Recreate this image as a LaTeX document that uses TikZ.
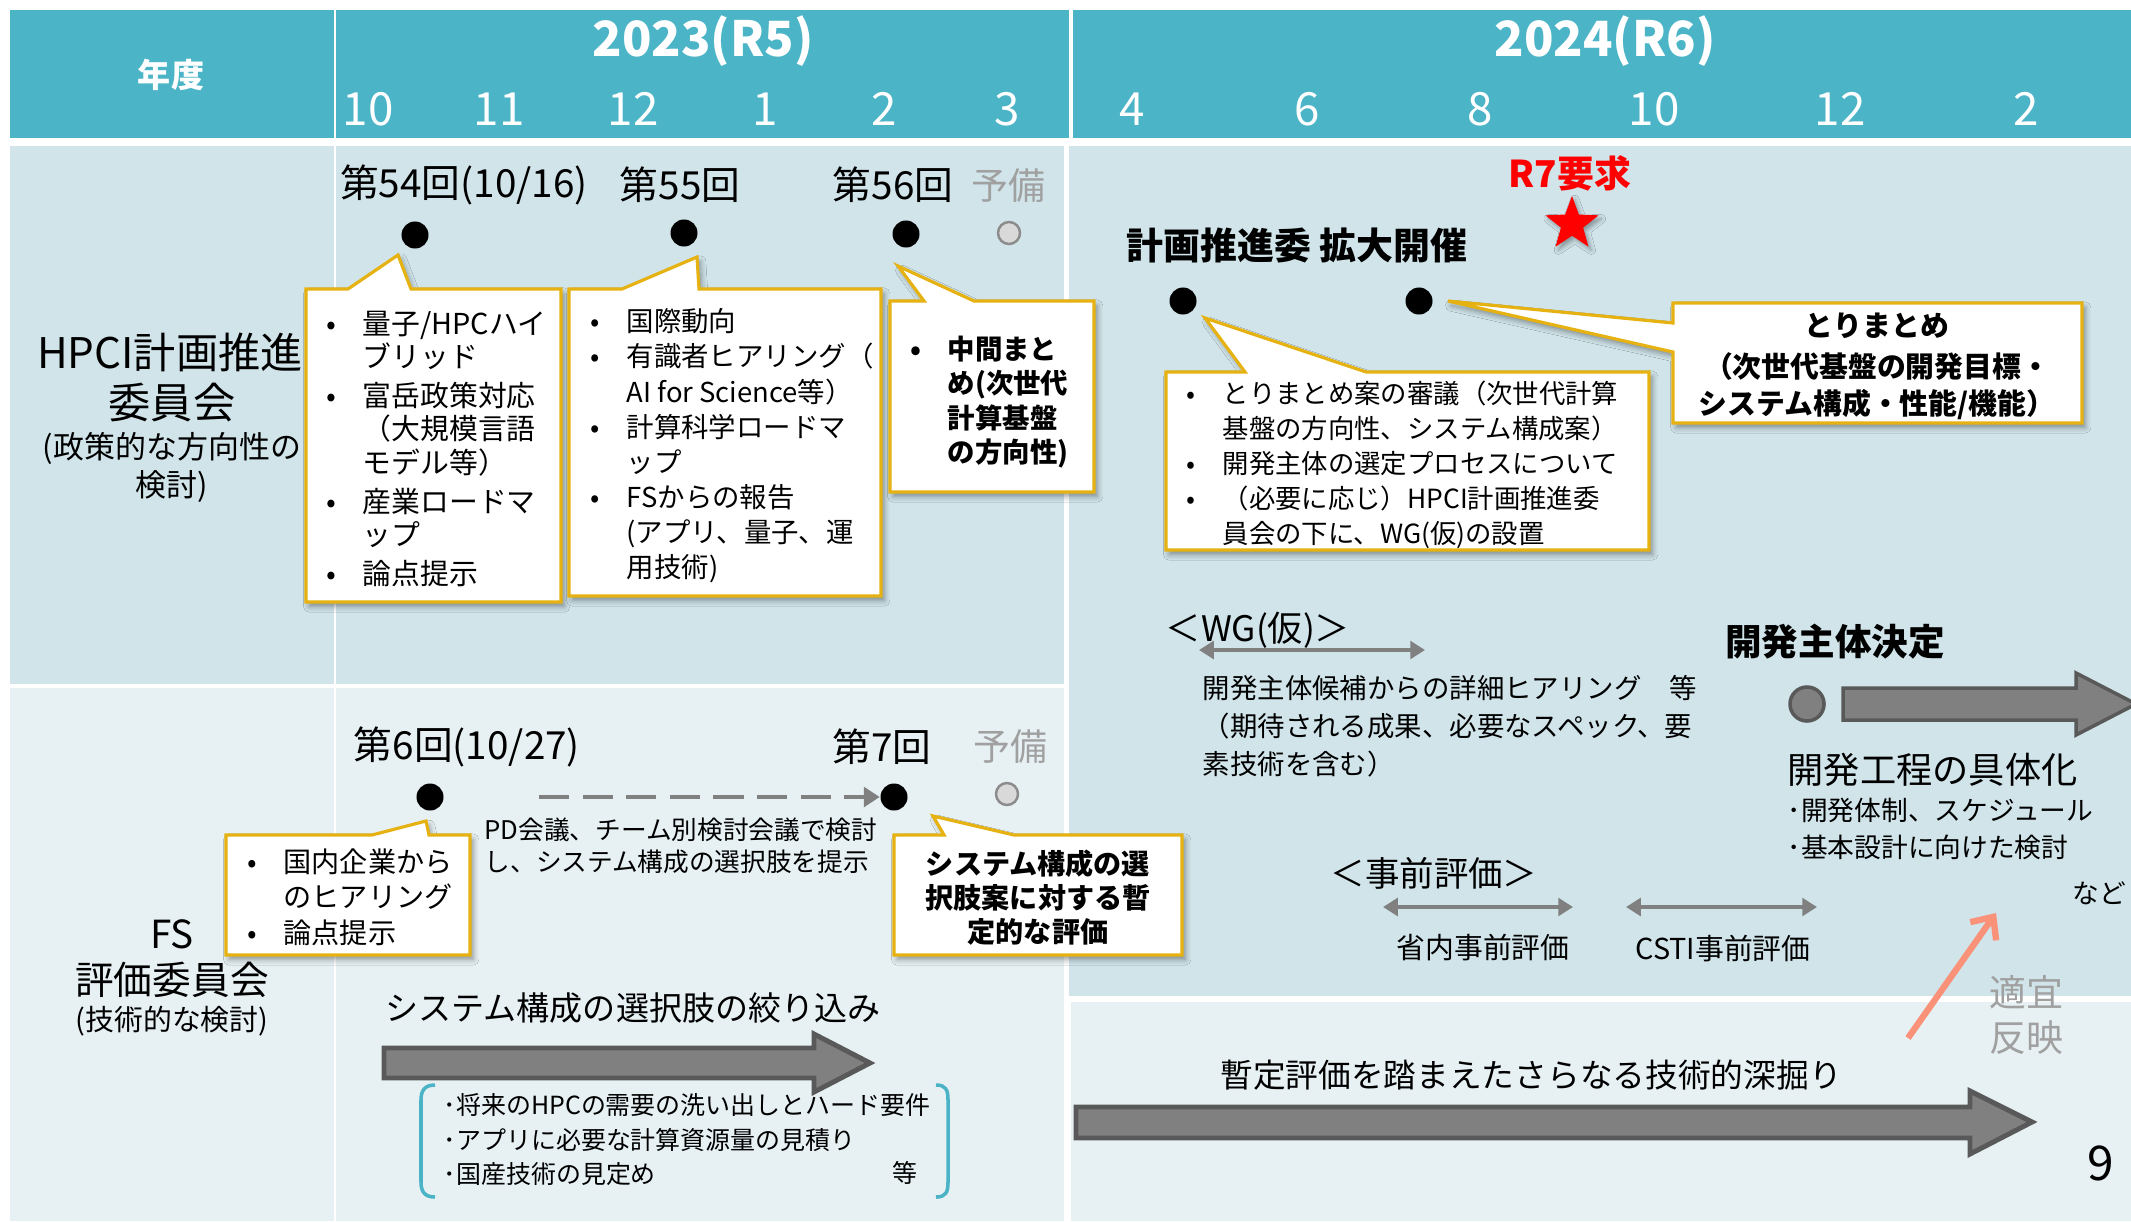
\documentclass[tikz,border=0pt]{standalone}
\usepackage{fontspec}
\setmainfont{Noto Sans CJK JP}
\usetikzlibrary{arrows.meta,shapes.geometric,shadows.blur}
\definecolor{hdr}{RGB}{76,180,199}
\definecolor{rowA}{RGB}{208,228,234}
\definecolor{rowB}{RGB}{231,241,244}
\definecolor{gold}{RGB}{230,178,18}
\definecolor{arrfill}{RGB}{128,128,128}
\definecolor{arrdraw}{RGB}{89,89,89}
\definecolor{salmon}{RGB}{250,146,122}
\definecolor{spare}{RGB}{160,160,160}
\definecolor{brk}{RGB}{75,179,198}
\newcommand\fsz[2]{\fontsize{#1}{#2}\selectfont}
\newcommand\bu{\llap{\makebox[18pt][c]{•}}}
\begin{document}
\begin{tikzpicture}[x=0.01cm,y=-0.01cm,
  txt/.style={inner sep=0pt},
  hdrtxt/.style={txt, text=white, font=\fsz{13}{15}},
  hdrbold/.style={txt, text=white, font=\bfseries\fsz{13.8}{16}},
  evlbl/.style={txt, text=black, font=\fsz{11}{13}},
  sparelbl/.style={txt, text=spare, font=\fsz{10.5}{12}},
  dotb/.style={circle, fill=black, minimum size=0.27cm, inner sep=0pt},
  dotspare/.style={circle, fill=black!15, draw=black!45, line width=0.7pt, minimum size=0.22cm, inner sep=0pt},
  cbox/.style={fill=white, draw=gold, line width=0.9pt, line join=miter,
     blur shadow={shadow xshift=0.9pt, shadow yshift=-1.3pt, shadow blur radius=1.6pt, shadow blur steps=5, shadow opacity=40}},
  boxtxt/.style={txt, anchor=north west, align=left},
  bigarrow/.style={fill=arrfill, draw=arrdraw, line width=1.4pt, line join=miter},
  dblarrow/.style={draw=arrfill, line width=1.2pt, {Triangle[length=4.2pt,width=5pt]}-{Triangle[length=4.2pt,width=5pt]}},
  dasharrow/.style={draw=arrfill, line width=1.2pt, dash pattern=on 8.6pt off 3.8pt, -{Triangle[length=4.5pt,width=5.5pt]}}
]
% ---------- backgrounds ----------
\path[use as bounding box] (0,0) rectangle (2131,1221);
\fill[white] (0,0) rectangle (2131,1221);
\fill[hdr] (10,10) rectangle (2131,138);
\fill[rowA] (10,146) rectangle (1064,684);
\fill[rowB] (10,688) rectangle (1064,1221);
\fill[rowA] (1069,146) rectangle (2131,996);
\fill[rowB] (1071,1002) rectangle (2131,1221);
\draw[white, line width=0.7pt] (335,10) -- (335,1221);
\draw[white, line width=1.2pt] (1071,10) -- (1071,138);

% ---------- header ----------
\node[txt, text=white, font=\bfseries\fsz{9.4}{11}] (nendo) at (171,75) {年度};
\node[hdrbold] (y2023) at (703,41) {2023(R5)};
\node[hdrbold] (y2024) at (1605,41) {2024(R6)};
\node[hdrtxt] (m10) at (368,109) {10};
\node[hdrtxt] (m11) at (499,109) {11};
\node[hdrtxt] (m12) at (633,109) {12};
\node[hdrtxt] (m1) at (765,109) {1};
\node[hdrtxt] (m2) at (884,109) {2};
\node[hdrtxt] (m3) at (1007,109) {3};
\node[hdrtxt] (n4) at (1132,109) {4};
\node[hdrtxt] (n6) at (1307,109) {6};
\node[hdrtxt] (n8) at (1480,109) {8};
\node[hdrtxt] (n10) at (1654,109) {10};
\node[hdrtxt] (n12) at (1840,109) {12};
\node[hdrtxt] (n2) at (2026,109) {2};

% ---------- row labels ----------
\node[txt, font=\fsz{12}{14}] (hpci1) at (170,352) {HPCI計画推進};
\node[txt, font=\fsz{12}{14}] (hpci2) at (172,403) {委員会};
\node[txt, font=\fsz{8.8}{10}] (hpci3) at (172,448) {(政策的な方向性の};
\node[txt, font=\fsz{8.8}{10}] (hpci4) at (172,487) {検討)};
\node[txt, font=\fsz{11}{13}] (fs1) at (172,934) {FS};
\node[txt, font=\fsz{11}{13}] (fs2) at (172,980) {評価委員会};
\node[txt, font=\fsz{8.2}{10}] (fs3) at (172,1021) {(技術的な検討)};

% ---------- HPCI 2023 ----------
\node[evlbl] (l54) at (464,185) {第54回(10/16)};
\node[evlbl] (l55) at (680,185) {第55回};
\node[evlbl] (l56) at (893,185) {第56回};
\node[sparelbl] (lsp1) at (1008,186) {予備};
\node[dotb] (d54) at (415,235) {};
\node[dotb] (d55) at (684,233) {};
\node[dotb] (d56) at (906,234) {};
\node[dotspare] (sp1) at (1009,233) {};

\path[cbox] (306,289) -- (348,289) -- (398,255) -- (411,289) -- (561,289) -- (561,602) -- (306,602) -- cycle;
\node[boxtxt, font=\fsz{8.2}{9.5}] (t1) at (362,310) {\bu 量子/HPCハイ\\ブリッド\\[1.6pt]\bu 富岳政策対応\\（大規模言語\\モデル等）\\[1.6pt]\bu 産業ロードマ\\ップ\\[1.6pt]\bu 論点提示};

\path[cbox] (569,289) -- (622,289) -- (697,257) -- (699,289) -- (881,289) -- (881,596) -- (569,596) -- cycle;
\node[boxtxt, font=\fsz{7.8}{10}] (t2) at (626,308) {\bu 国際動向\\\bu 有識者ヒアリング（\\AI for Science等）\\\bu 計算科学ロードマ\\ップ\\\bu FSからの報告\\(アプリ、量子、運\\用技術)};

\path[cbox] (890,301) -- (924,301) -- (898,266) -- (974,301) -- (1094,301) -- (1094,492) -- (890,492) -- cycle;
\node[boxtxt, font=\bfseries\fsz{7.8}{9.8}] (t3) at (947,335) {\bu 中間まと\\め(次世代\\計算基盤\\の方向性)};

% ---------- HPCI 2024 ----------
\node[txt, text=red, font=\bfseries\fsz{10.5}{12}] (r7) at (1570,173) {R7要求};
\node[star, star points=5, star point ratio=2.4, fill=red, minimum size=0.56cm, inner sep=0pt,
  blur shadow={shadow xshift=0.8pt, shadow yshift=-1pt, shadow blur radius=1.2pt, shadow opacity=35}] (star) at (1572,224) {};
\node[txt, font=\bfseries\fsz{10.5}{12}] (kakudai) at (1297,245) {計画推進委 拡大開催};
\node[dotb] (dA) at (1183,301) {};
\node[dotb] (dB) at (1419,301) {};

\path[cbox] (1166,372) -- (1245,372) -- (1205,318) -- (1366,372) -- (1649,372) -- (1649,550) -- (1166,550) -- cycle;
\node[boxtxt, font=\fsz{7.5}{10}] (t4) at (1222,380) {\bu とりまとめ案の審議（次世代計算\\基盤の方向性、システム構成案）\\\bu 開発主体の選定プロセスについて\\\bu （必要に応じ）HPCI計画推進委\\員会の下に、WG(仮)の設置};

\path[cbox] (1673,303) -- (2082,303) -- (2082,423) -- (1673,423) -- (1673,352) -- (1448,301) -- (1673,323) -- cycle;
\node[txt, anchor=north, align=center, font=\bfseries\fsz{8.2}{10.3}] (t5) at (1877,312) {とりまとめ\\[1.5pt]（次世代基盤の開発目標・\\システム構成・性能/機能）};

% WG
\node[txt, font=\fsz{10}{12}] (wg) at (1258,630) {＜WG(仮)＞};
\coordinate (wgA) at (1199,650);
\coordinate (wgB) at (1425,650);
\draw[dblarrow] (wgA) -- (wgB);
\node[boxtxt, font=\fsz{7.8}{10.8}] (wgt) at (1202,675) {開発主体候補からの詳細ヒアリング　等\\（期待される成果、必要なスペック、要\\素技術を含む）};

\node[txt, font=\bfseries\fsz{10.4}{12}] (kettei) at (1835,642) {開発主体決定};
\node[circle, fill=arrfill, draw=arrdraw, line width=1pt, minimum size=0.34cm, inner sep=0pt] (kc) at (1807,704) {};
\path[bigarrow, line width=1pt] (1843,688) -- (2076,688) -- (2076,673) -- (2136,704) -- (2076,735) -- (2076,720) -- (1843,720) -- cycle;
\node[txt, anchor=west, font=\fsz{10.3}{12}] (gutai) at (1787,770) {開発工程の具体化};
\node[txt, anchor=west, font=\fsz{7.6}{9}] (g1) at (1787,810) {･開発体制、スケジュール};
\node[txt, anchor=west, font=\fsz{7.6}{9}] (g2) at (1787,847) {･基本設計に向けた検討};
\node[txt, anchor=west, font=\fsz{7.6}{9}] (nado) at (2072,893) {など};

% 事前評価
\node[txt, font=\fsz{9.8}{12}] (jizen) at (1434,873) {＜事前評価＞};
\coordinate (jA) at (1383,907);
\coordinate (jB) at (1573,907);
\coordinate (jC) at (1626,907);
\coordinate (jD) at (1817,907);
\draw[dblarrow] (jA) -- (jB);
\draw[dblarrow] (jC) -- (jD);
\node[txt, font=\fsz{8.2}{10}] (shonai) at (1483,947) {省内事前評価};
\node[txt, font=\fsz{8.2}{10}] (csti) at (1723,948) {CSTI事前評価};

\coordinate (or1) at (1908,1038);
\coordinate (or2) at (1996,913);
\draw[salmon, line width=1.8pt, -{Straight Barb[length=5pt,width=9pt]}] (or1) -- (or2);
\node[txt, text=spare, align=center, font=\fsz{10.5}{12.8}] (tekigi) at (2026,1015) {適宜\\反映};

% ---------- FS 2023 ----------
\node[evlbl] (l6) at (467,747) {第6回(10/27)};
\node[evlbl] (l7) at (882,747) {第7回};
\node[sparelbl] (lsp2) at (1010,747) {予備};
\node[dotb] (d6) at (430,797) {};
\node[dotb] (d7) at (894,797) {};
\node[dotspare] (sp2) at (1007,794) {};
\coordinate (dstart) at (539,797);
\draw[dasharrow] (dstart) -- (d7.west);
\node[boxtxt, font=\fsz{7.3}{9.1}] (pd) at (484,817) {PD会議、チーム別検討会議で検討\\し、システム構成の選択肢を提示};

\path[cbox] (226,835) -- (372,835) -- (426,821) -- (429,835) -- (470,835) -- (470,955) -- (226,955) -- cycle;
\node[boxtxt, font=\fsz{8}{10.1}] (t6) at (283,848) {\bu 国内企業から\\のヒアリング\\\bu 論点提示};

\path[cbox] (894,835) -- (944,835) -- (933,816) -- (1014,835) -- (1182,835) -- (1182,955) -- (894,955) -- cycle;
\node[txt, anchor=north, align=center, font=\bfseries\fsz{8}{9.7}] (t7) at (1038,849) {システム構成の選\\択肢案に対する暫\\定的な評価};

\node[txt, font=\fsz{9.4}{11}] (shibori) at (633,1008) {システム構成の選択肢の絞り込み};
\path[bigarrow] (384,1048) -- (814,1048) -- (814,1034) -- (870,1063) -- (814,1092) -- (814,1078) -- (384,1078) -- cycle;
\draw[brk, line width=1pt] (435,1085) .. controls (425,1085) and (421,1090) .. (421,1100) -- (421,1182) .. controls (421,1192) and (425,1197) .. (435,1197);
\draw[brk, line width=1pt] (936,1085) .. controls (946,1085) and (948,1090) .. (948,1100) -- (948,1182) .. controls (948,1192) and (946,1197) .. (936,1197);
\node[boxtxt, font=\fsz{7.1}{9.8}] (lst) at (443,1093) {･将来のHPCの需要の洗い出しとハード要件\\･アプリに必要な計算資源量の見積り\\･国産技術の見定め};
\node[txt, font=\fsz{7.1}{9}] (tou) at (905,1173) {等};

% ---------- FS 2024 ----------
\node[txt, font=\fsz{9.3}{11}] (fukabori) at (1531,1075) {暫定評価を踏まえたさらなる技術的深掘り};
\path[bigarrow] (1076,1107) -- (1970,1107) -- (1970,1091) -- (2032,1122) -- (1970,1154) -- (1970,1138) -- (1076,1138) -- cycle;
\node[txt, font=\fsz{13.6}{15}] (pg) at (2101,1163) {9};
\end{tikzpicture}
\end{document}
